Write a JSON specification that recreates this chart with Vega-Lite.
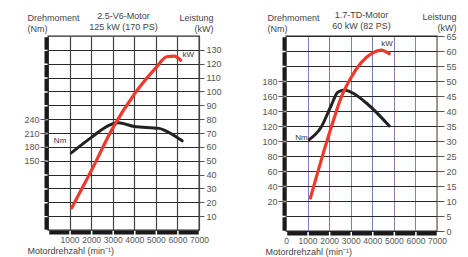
{
  "$schema": "https://vega.github.io/schema/vega-lite/v6.json",
  "padding": {"left": 23, "top": 10, "right": 0, "bottom": 0},
  "background": "white",
  "spacing": 87,
  "bounds": "flush",
  "config": {
    "font": "Liberation Sans",
    "view": {"stroke": "#2a2a2a", "strokeWidth": 1.3},
    "title": {"fontSize": 9, "fontWeight": "normal", "color": "#444", "lineHeight": 11, "anchor": "middle", "offset": -19},
    "axis": {"labelFont": "Liberation Sans", "titleFont": "Liberation Sans", "labelFontSize": 9, "labelColor": "#555", "titleFontSize": 9, "titleFontWeight": "normal", "titleColor": "#444", "tickColor": "#555", "tickWidth": 1, "labelFlush": false, "labelOverlap": false, "format": "d", "tickCount": 30}
  },
  "datasets": {
    "v6_kw": [
      {"rpm": 1100, "kw": 16}, {"rpm": 2000, "kw": 42.5}, {"rpm": 3000, "kw": 73.5}, {"rpm": 4000, "kw": 98},
      {"rpm": 5000, "kw": 117}, {"rpm": 5500, "kw": 125}, {"rpm": 5850, "kw": 125.5}, {"rpm": 6150, "kw": 122.5}
    ],
    "v6_nm": [
      {"rpm": 1080, "nm": 167}, {"rpm": 2000, "nm": 200}, {"rpm": 2850, "nm": 227}, {"rpm": 3250, "nm": 232},
      {"rpm": 4000, "nm": 224}, {"rpm": 5150, "nm": 220}, {"rpm": 5480, "nm": 214}, {"rpm": 6220, "nm": 193}
    ],
    "td_kw": [
      {"rpm": 1130, "kw": 11}, {"rpm": 1620, "kw": 23.3}, {"rpm": 2090, "kw": 34.4}, {"rpm": 2550, "kw": 44.4},
      {"rpm": 3010, "kw": 51.1}, {"rpm": 3480, "kw": 56.1}, {"rpm": 4020, "kw": 59.4}, {"rpm": 4400, "kw": 60.3}, {"rpm": 4790, "kw": 59.1}
    ],
    "td_nm": [
      {"rpm": 1080, "nm": 102}, {"rpm": 1620, "nm": 118}, {"rpm": 2090, "nm": 147}, {"rpm": 2400, "nm": 165},
      {"rpm": 2700, "nm": 168}, {"rpm": 3090, "nm": 164}, {"rpm": 3790, "nm": 149}, {"rpm": 4790, "nm": 120}
    ],
    "v6_kw_lab": [{"rpm": 6500, "kw": 126, "t": "kW"}],
    "v6_nm_lab": [{"rpm": 560, "nm": 193, "t": "Nm"}],
    "td_kw_lab": [{"rpm": 4680, "kw": 62.3, "t": "kW"}],
    "td_nm_lab": [{"rpm": 720, "nm": 104, "t": "Nm"}]
  },
  "hconcat": [
    {
      "width": 151,
      "height": 194,
      "title": {"text": ["2.5-V6-Motor", "125 kW (170 PS)"]},
      "layer": [
        {
          "data": {"name": "v6_nm"},
          "mark": {"type": "line", "color": "#222", "strokeWidth": 3, "interpolate": "monotone", "strokeCap": "round"},
          "encoding": {
            "x": {"field": "rpm", "type": "quantitative", "scale": {"domain": [0, 7000]},
              "axis": {"values": [1000, 2000, 3000, 4000, 5000, 6000, 7000], "tickCount": 30, "format": "d", "labelOverlap": false, "labelFontSize": 8.5, "grid": true, "gridColor": "#3a4846", "gridWidth": 1.2,
                "ticks": false, "tickSize": 0, "domainColor": "#1a1a1a", "domainWidth": 4, "domainDash": [20.07, 1.5], "domainDashOffset": -0.75,
                "offset": 2, "labelPadding": 3,
                "title": "Motordrehzahl (min⁻¹)", "titleAnchor": "start", "titleAlign": "left", "titleBaseline": "middle", "titleX": -21, "titleY": 18}},
            "y": {"field": "nm", "type": "quantitative", "scale": {"domain": [0, 420]},
              "axis": {"orient": "left", "values": [150, 180, 210, 240], "tickCount": 30, "grid": false, "tickSize": 6, "labelPadding": 1,
                "domainColor": "#1a1a1a", "domainWidth": 4, "domainDash": [12.4, 1.457], "domainDashOffset": -0.73, "offset": 2,
                "title": ["Drehmoment", "(Nm)"], "titleAngle": 0, "titleAlign": "left", "titleBaseline": "top", "titleX": -19, "titleY": -23}}
          }
        },
        {
          "data": {"name": "v6_nm_lab"},
          "mark": {"type": "text", "fontSize": 8, "color": "#333", "font": "Liberation Sans"},
          "encoding": {
            "x": {"field": "rpm", "type": "quantitative"},
            "y": {"field": "nm", "type": "quantitative", "scale": {"domain": [0, 420]}, "axis": null},
            "text": {"field": "t"}
          }
        },
        {
          "data": {"name": "v6_kw"},
          "mark": {"type": "line", "color": "#ec3a2d", "strokeWidth": 3.2, "interpolate": "monotone", "strokeCap": "round"},
          "encoding": {
            "x": {"field": "rpm", "type": "quantitative"},
            "y": {"field": "kw", "type": "quantitative", "scale": {"domain": [0, 140]},
              "axis": {"orient": "right", "values": [10, 20, 30, 40, 50, 60, 70, 80, 90, 100, 110, 120, 130], "tickCount": 30, "grid": true, "gridColor": "#2a2a2a", "gridWidth": 1.2,
                "domain": false, "tickSize": 5, "labelPadding": 2,
                "title": ["Leistung", "(kW)"], "titleAngle": 0, "titleAlign": "right", "titleBaseline": "top", "titleX": 14, "titleY": -23}}
          }
        },
        {
          "data": {"name": "v6_kw_lab"},
          "mark": {"type": "text", "fontSize": 8, "color": "#333", "font": "Liberation Sans"},
          "encoding": {
            "x": {"field": "rpm", "type": "quantitative"},
            "y": {"field": "kw", "type": "quantitative", "scale": {"domain": [0, 140]}, "axis": null},
            "text": {"field": "t"}
          }
        }
      ],
      "resolve": {"scale": {"y": "independent"}}
    },
    {
      "width": 151,
      "height": 195,
      "title": {"text": ["1.7-TD-Motor", "60 kW (82 PS)"]},
      "layer": [
        {
          "data": {"name": "td_nm"},
          "mark": {"type": "line", "color": "#222", "strokeWidth": 3, "interpolate": "monotone", "strokeCap": "round"},
          "encoding": {
            "x": {"field": "rpm", "type": "quantitative", "scale": {"domain": [0, 7000]},
              "axis": {"values": [0, 1000, 2000, 3000, 4000, 5000, 6000, 7000], "tickCount": 30, "format": "d", "labelOverlap": false, "labelFontSize": 8.5, "grid": true, "gridWidth": 1,
                "gridColor": {"condition": [
                  {"test": "datum.value == 1000", "value": "#7f7fc0"},
                  {"test": "datum.value == 2000", "value": "#9a6a9a"},
                  {"test": "datum.value == 3000", "value": "#5e9a78"},
                  {"test": "datum.value == 4000", "value": "#6a86a8"},
                  {"test": "datum.value == 5000", "value": "#9a74a8"},
                  {"test": "datum.value == 6000", "value": "#62a074"}
                ], "value": "#a89080"},
                "ticks": false, "tickSize": 0, "domainColor": "#1a1a1a", "domainWidth": 4, "domainDash": [20.07, 1.5], "domainDashOffset": -0.75,
                "offset": 2, "labelPadding": 3,
                "title": "Motordrehzahl (min⁻¹)", "titleAnchor": "start", "titleAlign": "left", "titleBaseline": "middle", "titleX": -21, "titleY": 18}},
            "y": {"field": "nm", "type": "quantitative", "scale": {"domain": [-20, 240]},
              "axis": {"orient": "left", "values": [20, 40, 60, 80, 100, 120, 140, 160, 180], "tickCount": 30, "grid": false, "tickSize": 6, "labelPadding": 1,
                "domainColor": "#1a1a1a", "domainWidth": 4, "domainDash": [13.5, 1.5], "domainDashOffset": -0.75, "offset": 2,
                "title": ["Drehmoment", "(Nm)"], "titleAngle": 0, "titleAlign": "left", "titleBaseline": "top", "titleX": -17, "titleY": -23}}
          }
        },
        {
          "data": {"name": "td_nm_lab"},
          "mark": {"type": "text", "fontSize": 8, "color": "#333", "font": "Liberation Sans"},
          "encoding": {
            "x": {"field": "rpm", "type": "quantitative"},
            "y": {"field": "nm", "type": "quantitative", "scale": {"domain": [-20, 240]}, "axis": null},
            "text": {"field": "t"}
          }
        },
        {
          "data": {"name": "td_kw"},
          "mark": {"type": "line", "color": "#ec3a2d", "strokeWidth": 3.2, "interpolate": "monotone", "strokeCap": "round"},
          "encoding": {
            "x": {"field": "rpm", "type": "quantitative"},
            "y": {"field": "kw", "type": "quantitative", "scale": {"domain": [0, 65]},
              "axis": {"orient": "right", "values": [0, 5, 10, 15, 20, 25, 30, 35, 40, 45, 50, 55, 60, 65], "tickCount": 30, "grid": true, "gridColor": "#2a2a2a", "gridWidth": 1.2,
                "domain": false, "tickSize": 7, "labelPadding": 2,
                "title": ["Leistung", "(kW)"], "titleAngle": 0, "titleAlign": "right", "titleBaseline": "top", "titleX": 19, "titleY": -24}}
          }
        },
        {
          "data": {"name": "td_kw_lab"},
          "mark": {"type": "text", "fontSize": 8, "color": "#333", "font": "Liberation Sans"},
          "encoding": {
            "x": {"field": "rpm", "type": "quantitative"},
            "y": {"field": "kw", "type": "quantitative", "scale": {"domain": [0, 65]}, "axis": null},
            "text": {"field": "t"}
          }
        }
      ],
      "resolve": {"scale": {"y": "independent"}}
    }
  ]
}
